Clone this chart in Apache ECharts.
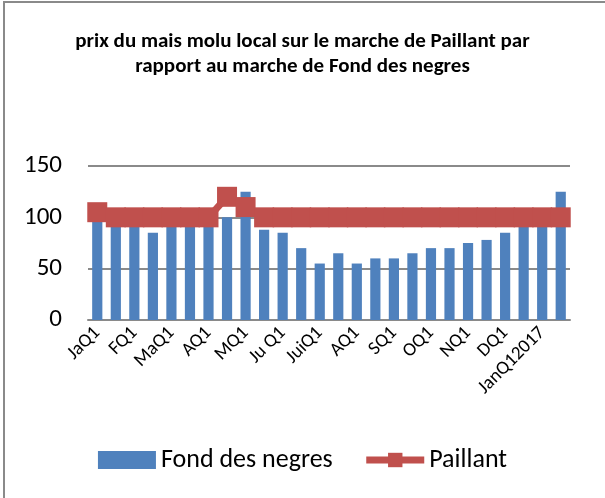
<!DOCTYPE html>
<html>
<head>
<meta charset="utf-8">
<script src="https://cdn.jsdelivr.net/npm/echarts@6/dist/echarts.min.js"></script>
<style>
  html, body { margin: 0; padding: 0; background: #fff; }
  #frame { position: absolute; left: 3px; top: 1px; width: 602px; height: 497px;
           border-left: 2px solid #8a8a8a; border-top: 2px solid #8a8a8a; }
  #chart { position: absolute; left: 0; top: 0; width: 605px; height: 498px; }
</style>
</head>
<body>
<div id="frame"></div>
<div id="chart"></div>
<script>
// Prix du mais molu - Paillant vs Fond des negres (par quinzaine)
var categories = ['JaQ1', 'JaQ2', 'FQ1', 'FQ2', 'MaQ1', 'MaQ2', 'AQ1', 'AQ2',
  'MQ1', 'MQ2', 'Ju Q1', 'Ju Q2', 'JuiQ1', 'JuiQ2', 'AQ1', 'AQ2', 'SQ1', 'SQ2',
  'OQ1', 'OQ2', 'NQ1', 'NQ2', 'DQ1', 'DQ2', 'JanQ12017', 'JanQ22017'];
var fondDesNegres = [100, 95, 95, 85, 95, 95, 95, 100, 125, 88, 85, 70, 55,
  65, 55, 60, 60, 65, 70, 70, 75, 78, 85, 95, 95, 125];
var paillant = [105, 100, 100, 100, 100, 100, 100, 120, 110, 100, 100, 100, 100,
  100, 100, 100, 100, 100, 100, 100, 100, 100, 100, 100, 100, 100];
var yTicks = [0, 50, 100, 150];

(function () {
  var chart = echarts.init(document.getElementById('chart'));
  var font = 'Carlito, "Open Sans", "Noto Sans", sans-serif';

  var option = {
    animation: false,
    title: {
      text: 'prix du mais molu local sur le marche de Paillant par\nrapport au marche de Fond des negres',
      left: 'center',
      top: 24,
      textStyle: {
        fontFamily: font,
        fontSize: 21,
        fontWeight: 'bold',
        color: '#000',
        lineHeight: 25
      }
    },
    legend: {
      bottom: 20,
      left: 'center',
      itemGap: 30,
      textStyle: { fontFamily: font, fontSize: 26, color: '#000' },
      data: [
        { name: 'Fond des negres', icon: 'rect', itemWidth: 52, itemHeight: 15 },
        { name: 'Paillant', lineStyle: { width: 7 } }
      ],
      itemWidth: 58,
      itemHeight: 18
    },
    grid: {
      left: 88,
      right: 35,
      top: 166,
      bottom: 178
    },
    xAxis: {
      type: 'category',
      data: categories,
      axisTick: { show: false },
      axisLine: { lineStyle: { color: '#8a8a8a', width: 2 } },
      axisLabel: {
        interval: 1,
        rotate: 45,
        fontFamily: font,
        fontSize: 19,
        color: '#000',
        margin: 10
      }
    },
    yAxis: {
      type: 'value',
      min: yTicks[0],
      max: yTicks[yTicks.length - 1],
      interval: yTicks[1] - yTicks[0],
      axisLine: { show: false },
      axisTick: { show: false },
      axisLabel: {
        fontFamily: font,
        fontSize: 25,
        color: '#000',
        margin: 26
      },
      splitLine: { lineStyle: { color: '#8a8a8a', width: 2 } }
    },
    series: [
      {
        name: 'Fond des negres',
        type: 'bar',
        data: fondDesNegres,
        barWidth: '55%',
        itemStyle: { color: '#4F81BD' }
      },
      {
        name: 'Paillant',
        type: 'line',
        data: paillant,
        symbol: 'rect',
        symbolSize: 20,
        showAllSymbol: true,
        lineStyle: { color: '#C0504D', width: 7 },
        itemStyle: { color: '#C0504D' }
      }
    ]
  };

  chart.setOption(option);
  window.addEventListener('resize', function () { chart.resize(); });
})();
</script>
</body>
</html>
